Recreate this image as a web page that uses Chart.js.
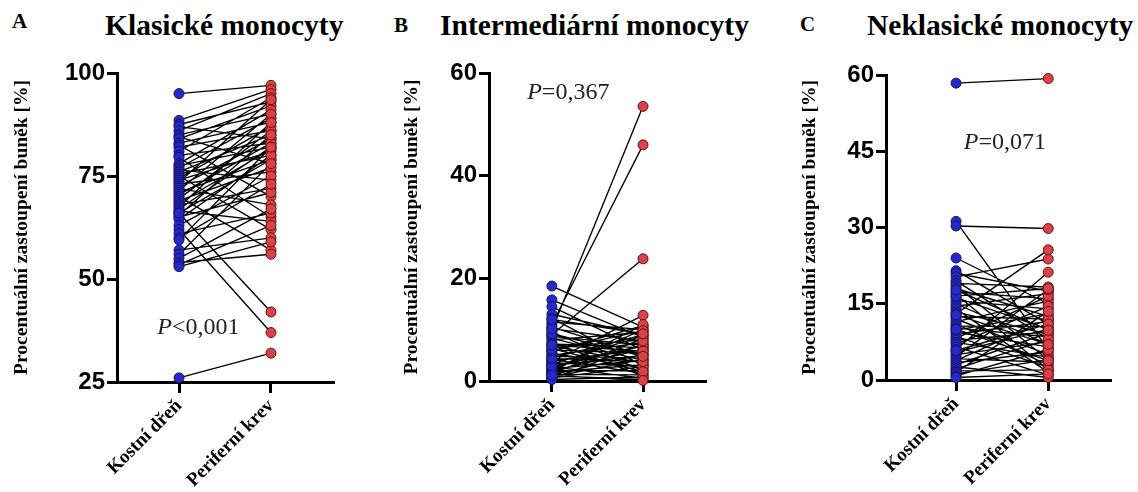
<!DOCTYPE html>
<html>
<head>
<meta charset="utf-8">
<script src="https://cdn.jsdelivr.net/npm/chart.js@4.4.1/dist/chart.umd.min.js"></script>
<style>
  body { margin: 0; background: #fff; width: 1138px; height: 492px; position: relative; overflow: hidden; }
  canvas { position: absolute; top: 0; }
  .text { position: absolute; font-family: "Liberation Serif", "Times New Roman", serif; font-weight: bold; color: #000; white-space: nowrap; }
  .pismeno { font-size: 21px; line-height: 21px; }
  .nadpis { font-size: 29.5px; line-height: 30px; }
</style>
</head>
<body>
<div class="text pismeno" style="left:12px; top:11px;">A</div>
<div class="text nadpis" style="left:105px; top:10px;">Klasické monocyty</div>
<div class="text pismeno" style="left:394px; top:15px;">B</div>
<div class="text nadpis" style="left:440px; top:10px;">Intermediární monocyty</div>
<div class="text pismeno" style="left:800px; top:14px;">C</div>
<div class="text nadpis" style="left:867px; top:10px;">Neklasické monocyty</div>

<canvas id="grafA" width="380" height="492" style="left:0px"></canvas>
<canvas id="grafB" width="380" height="492" style="left:380px"></canvas>
<canvas id="grafC" width="378" height="492" style="left:760px"></canvas>

<script>
// kategorie na ose x
const kategorie = ["Kostní dřeň", "Periferní krev"];
const popisOsyY = "Procentuální zastoupení buněk [%]";

// A: klasické monocyty (páry kostní dřeň -> periferní krev)
const kostniA = [95, 88.5, 87.5, 87, 86, 85, 84.5, 84, 83, 82.5, 82, 81, 80, 79.5, 78, 77.5, 77, 76.5, 76, 75.5,
  75, 74.5, 74, 73.5, 73, 72.5, 72, 71.5, 71, 70.5, 70, 69.5, 69, 68.5, 68, 67.5, 67, 66.5, 66, 65.5,
  65, 64.5, 66, 63, 62, 61, 60, 59.5, 57, 56, 55, 54, 53.5, 53, 26];
const periferniA = [97, 96, 93, 84, 95, 90, 78, 92, 88, 70, 86, 94, 83, 65, 91, 82, 89, 74, 85, 80,
  62, 87, 81, 93.5, 76, 84, 68, 90, 79, 83, 57, 86, 77, 81.5, 72, 88, 82, 64, 79, 85,
  71, 80, 42, 75, 37, 66, 73, 82, 60, 78, 67, 56, 63, 59, 32];
const tickyA = [25, 50, 75, 100];

// B: intermediární monocyty
const kostniB = [18.5, 15.8, 14.5, 13, 12.2, 11.5, 11, 10.5, 10, 9.5, 9, 8.7, 8.3, 8, 7.5, 7.2, 6.8, 6.5, 6, 5.7,
  5.4, 5, 4.8, 4.5, 4.2, 4, 3.8, 3.5, 3.3, 3, 2.8, 2.6, 2.4, 2.2, 2, 1.9, 1.7, 1.5, 1.3, 1.2,
  1, 0.8, 0.6, 0.4, 0.3, 1.8, 2.9, 4.4, 5.9, 6.3, 7, 9.2, 10.2, 12, 1.1];
const periferniB = [10.5, 8.5, 6, 9, 3, 10, 46, 5, 53.5, 2, 23.8, 7, 4, 9.5, 1, 6.5, 3.5, 8, 5.5, 10.8,
  2.5, 7.5, 4.5, 9, 1.5, 6, 12.8, 3, 8.8, 5, 0.5, 7, 4, 10, 2, 6.2, 3.2, 8.2, 1.2, 5.2,
  0.3, 4.2, 2.8, 7.2, 0.8, 11, 6.8, 3.8, 9.8, 1.8, 5.8, 4.8, 7.8, 9.2, 0.1];
const tickyB = [0, 20, 40, 60];

// C: neklasické monocyty
const kostniC = [58.4, 31.2, 30.3, 24, 21.5, 21, 20.3, 19.5, 19, 18.5, 18, 17.3, 16.8, 16.2, 15.6, 15, 14.5, 14, 13.4, 13,
  12.5, 12, 11.5, 11, 10.6, 10.2, 9.8, 9.4, 9, 8.6, 8.2, 7.8, 7.4, 7, 6.5, 6, 5.5, 5, 4.6, 4.2,
  3.8, 3.4, 3, 2.6, 2.2, 1.8, 1.5, 1.2, 0.8, 0.5, 5.8, 10, 12.8, 16.5, 17.7];
const periferniC = [59.3, 6, 29.8, 15, 11, 17.5, 23.8, 8, 18.3, 4, 12.5, 16, 2, 10, 14, 7, 17, 1.5, 9, 25.6,
  12, 5, 15.5, 3, 10.5, 8.5, 13, 6.5, 11.5, 2.5, 16.5, 9.5, 4.5, 14.5, 1, 21.2, 10, 7.5, 17.8, 3.5,
  12, 5.5, 9.2, 0.5, 8, 2, 13.5, 4, 6, 1.2, 11, 3.8, 7, 18, 9.8];
const tickyC = [0, 15, 30, 45, 60];

const modra = "rgb(38, 40, 200)";
const modraOkraj = "rgb(20, 22, 100)";
const cervena = "rgb(216, 66, 72)";
const cervenaOkraj = "rgb(100, 18, 20)";

// text s P hodnotou (P kurzívou)
const pHodnota = {
  id: "pHodnota",
  afterDatasetsDraw(chart, args, opts) {
    const ctx = chart.ctx;
    const x = chart.scales.x.getPixelForValue(opts.x);
    const y = chart.scales.y.getPixelForValue(opts.y);
    ctx.save();
    ctx.fillStyle = "#222";
    ctx.textBaseline = "middle";
    ctx.textAlign = "left";
    const f1 = "italic 24px 'Liberation Serif', serif";
    const f2 = "24px 'Liberation Serif', serif";
    ctx.font = f1;
    const w1 = ctx.measureText("P").width;
    ctx.font = f2;
    const w2 = ctx.measureText(opts.text).width;
    const start = x - (w1 + w2) / 2;
    ctx.font = f1;
    ctx.fillText("P", start, y);
    ctx.font = f2;
    ctx.fillText(opts.text, start + w1, y);
    ctx.restore();
  }
};

function vytvorGraf(id, kostni, periferni, ticky, n) {
  // spojnice párů: jeden dataset, páry oddělené mezerou
  const spojnice = [];
  kostni.forEach((k, i) => {
    spojnice.push({ x: 0, y: k }, { x: 1, y: periferni[i] }, { x: 1, y: null });
  });

  return new Chart(document.getElementById(id), {
    type: "line",
    data: {
      datasets: [
        {
          data: spojnice,
          borderColor: "#000",
          borderWidth: 1.35,
          pointRadius: 0,
          spanGaps: false,
          clip: false,
          order: 2,
        },
        {
          label: kategorie[0],
          data: kostni.map((v) => ({ x: 0, y: v })),
          showLine: false,
          pointRadius: 5,
          pointBackgroundColor: modra,
          pointBorderColor: modraOkraj,
          pointBorderWidth: 1,
          clip: false,
          order: 1,
        },
        {
          label: kategorie[1],
          data: periferni.map((v) => ({ x: 1, y: v })),
          showLine: false,
          pointRadius: 5,
          pointBackgroundColor: cervena,
          pointBorderColor: cervenaOkraj,
          pointBorderWidth: 1,
          clip: false,
          order: 1,
        },
      ],
    },
    options: {
      responsive: false,
      animation: false,
      events: [],
      layout: { padding: { left: n.padLeft, top: n.padTop, right: n.padRight, bottom: 0 } },
      plugins: {
        legend: { display: false },
        tooltip: { enabled: false },
        pHodnota: { x: n.pX, y: n.pY, text: n.pText },
      },
      scales: {
        x: {
          type: "linear",
          min: n.xMin,
          max: n.xMax,
          afterBuildTicks: (s) => { s.ticks = [{ value: 0 }, { value: 1 }]; },
          afterFit: (s) => { s.height = n.xHeight; },
          ticks: {
            callback: (v) => kategorie[v],
            minRotation: 45,
            maxRotation: 45,
            padding: 2,
            color: "#000",
            font: { family: "'Liberation Serif', serif", size: 19, weight: "bold" },
          },
          grid: { drawOnChartArea: false, color: "#000", lineWidth: 3, tickLength: 11 },
          border: { color: "#000", width: 3 },
        },
        y: {
          min: ticky[0],
          max: ticky[ticky.length - 1],
          afterBuildTicks: (s) => { s.ticks = ticky.map((v) => ({ value: v })); },
          afterFit: (s) => { s.width = n.yWidth; },
          ticks: {
            padding: 2,
            color: "#000",
            font: { family: "'Liberation Sans', Arial, sans-serif", size: 24, weight: "bold" },
          },
          grid: { drawOnChartArea: false, color: "#000", lineWidth: 3, tickLength: 10 },
          border: { color: "#000", width: 3 },
          title: {
            display: true,
            text: popisOsyY,
            color: "#000",
            padding: 0,
            font: { family: "'Liberation Serif', serif", size: 19.5, weight: "bold" },
          },
        },
      },
    },
    plugins: [pHodnota],
  });
}

vytvorGraf("grafA", kostniA, periferniA, tickyA, {
  padLeft: 10, yWidth: 107, padTop: 73, padRight: 47, xHeight: 110,
  xMin: -0.674, xMax: 1.674, pX: 0.21, pY: 38.3, pText: "<0,001",
});
vytvorGraf("grafB", kostniB, periferniB, tickyB, {
  padLeft: 20, yWidth: 89, padTop: 73, padRight: 55, xHeight: 111,
  xMin: -0.69, xMax: 1.68, pX: 0.18, pY: 56.1, pText: "=0,367",
});
vytvorGraf("grafC", kostniC, periferniC, tickyC, {
  padLeft: 38, yWidth: 88, padTop: 75, padRight: 28, xHeight: 112,
  xMin: -0.76, xMax: 1.67, pX: 0.53, pY: 46.6, pText: "=0,071",
});
</script>
</body>
</html>
